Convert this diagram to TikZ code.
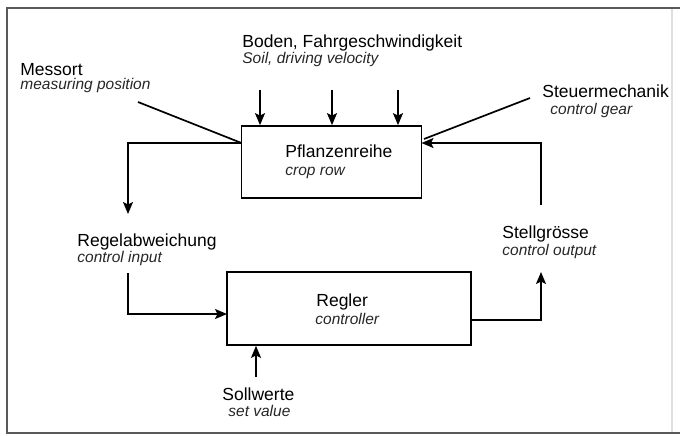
\documentclass[tikz,border=0pt]{standalone}
\usepackage{fontspec}
\setmainfont{Liberation Sans}
\usetikzlibrary{arrows.meta}
\begin{document}
\begin{tikzpicture}[x=0.5pt,y=-0.5pt,
  de/.style={inner sep=0pt, anchor=base west, font=\fontsize{8.75}{10}\selectfont},
  en/.style={inner sep=0pt, anchor=base west, font=\fontsize{7.75}{9}\selectfont\itshape, text=black!85},
  blk/.style={draw, line width=0.85pt, inner sep=0pt},
  conn/.style={line width=0.85pt},
  arr/.style={conn, -{Stealth[length=6pt,width=5pt,inset=1.2pt]}}]
\useasboundingbox (0,0) rectangle (680,435);
% frame
\draw[gray!25, line width=0.6pt] (672,8) -- (672,433);
\draw[black!65, line width=1pt] (680,8) -- (7,8) -- (7,433) -- (680,433);
% boxes
\node[blk, minimum width=90pt, minimum height=36pt] (pfl) at (331.5,162) {};
\node[blk, minimum width=122pt, minimum height=36.5pt] (reg) at (349,308.5) {};
% box texts
\node[de] (pflDE) at (285,157) {Pflanzenreihe};
\node[en] (pflEN) at (285,175) {crop row};
\node[de] (regDE) at (316,306) {Regler};
\node[en] (regEN) at (315,324) {controller};
% labels
\node[de] (bodDE) at (242,47) {Boden, Fahrgeschwindigkeit};
\node[en] (bodEN) at (242,63) {Soil, driving velocity};
\node[de] (mesDE) at (20,75) {Messort};
\node[en] (mesEN) at (20,89) {measuring position};
\node[de] (steDE) at (542,97) {Steuermechanik};
\node[en] (steEN) at (550,114) {control gear};
\node[de] (rabDE) at (77,246.5) {Regelabweichung};
\node[en] (rabEN) at (77,262) {control input};
\node[de] (solDE) at (222,400.5) {Sollwerte};
\node[en] (solEN) at (228,416) {set value};
\node[de] (stgDE) at (502,238) {Stellgr\"osse};
\node[en] (stgEN) at (502,255.5) {control output};
% coordinates
\coordinate (t1) at (260,90);
\coordinate (t2) at (332,90);
\coordinate (t3) at (398,90);
\coordinate (mesP) at (138,102);
\coordinate (pL) at (241.5,143);
\coordinate (fbL) at (128,214);
\coordinate (raTop) at (128,273);
\coordinate (regL) at (227,314);
\coordinate (swP) at (256,377);
\coordinate (regR) at (471,320);
\coordinate (sgTop) at (541,272);
\coordinate (fbR) at (541,205);
\coordinate (pR) at (421.5,143);
\coordinate (steP) at (530,98);
\coordinate (steE) at (424,139);
% disturbance arrows
\draw[arr] (t1) -- (t1 |- pfl.north);
\draw[arr] (t2) -- (t2 |- pfl.north);
\draw[arr] (t3) -- (t3 |- pfl.north);
% pointer lines
\draw[conn] (mesP) -- (pL);
\draw[conn] (steP) -- (steE);
% loop
\draw[arr] (pL) -| (fbL);
\draw[arr] (raTop) |- (regL);
\draw[arr] (swP) -- (swP |- reg.south);
\draw[arr] (regR) -| (sgTop);
\draw[arr] (fbR) |- (pR);
\end{tikzpicture}
\end{document}
